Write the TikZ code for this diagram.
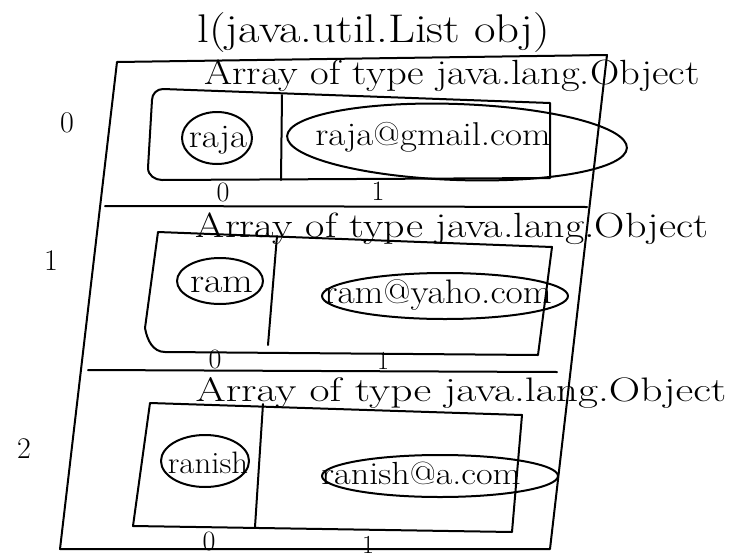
\documentclass[tikz,border=0pt]{standalone}
\usepackage{graphicx}
\usetikzlibrary{calc}
\newcommand\hsc[2]{\scalebox{#1}[1]{#2}}
\begin{document}
\tikzset{
  ink/.style={line width=2pt, line cap=round, line join=round},
  fs/.style={inner sep=0pt, anchor=base, font=\fontsize{#1}{#1}\selectfont},
}
\begin{tikzpicture}[x=1pt,y=-1pt]
\useasboundingbox (0,0) rectangle (729,560);
% outer frame
\draw[ink] (117,62) -- (607,55) -- (550,549) -- (60,549) -- cycle;
\node[fs=40] (title) at (374,42) {\hsc{1.17}{l(java.util.List obj)}};
% left row numbers
\node[fs=30] (n0) at (67,132) {0};
\node[fs=30] (n1) at (51,270) {1};
\node[fs=30] (n2) at (24,458) {2};
% ---------- row 0
\node[fs=35] (h0) at (452,84) {\hsc{1.16}{Array of type java.lang.Object}};
\draw[ink] (550,103) -- (163,89) to[out=180,in=90] (152,100) -- (148,168) to[out=-90,in=180] (162,180) -- (550,178) -- cycle;
\draw[ink] (282,95) -- (281,180);
\draw[ink] (217,138) ellipse [x radius=35, y radius=26];
\node[fs=33] (v00) at (218,147) {\hsc{1.12}{raja}};
\draw[ink, rotate around={-2:(457,142)}] (457,142) ellipse [x radius=170, y radius=38];
\node[fs=33] (v01) at (433,145) {\hsc{1.12}{raja@gmail.com}};
\node[fs=28] (i00) at (223,201) {0};
\node[fs=28] (i01) at (378,200) {1};
\draw[ink] (105,206) -- (587,207);
% ---------- row 1
\node[fs=35] (h1) at (452,237) {\hsc{1.2}{Array of type java.lang.Object}};
\draw[ink] (552,247) -- (158,232) -- (145,328) to[out=-80,in=180] (165,352) -- (538,355) -- cycle;
\draw[ink] (277,236) -- (268,345);
\draw[ink] (220,281) ellipse [x radius=43, y radius=23];
\node[fs=35] (v10) at (222,292) {\hsc{1.14}{ram}};
\draw[ink] (445,296) ellipse [x radius=123, y radius=23];
\node[fs=34] (v11) at (438,303) {\hsc{1.1}{ram@yaho.com}};
\node[fs=28] (i10) at (215,368) {0};
\node[fs=26] (i11) at (383,369) {1};
\draw[ink] (88,370) -- (557,372);
% ---------- row 2
\node[fs=34] (h2) at (461,401) {\hsc{1.28}{Array of type java.lang.Object}};
\draw[ink] (150,403) -- (522,415) -- (512,532) -- (133,526) -- cycle;
\draw[ink] (263,404) -- (255,527);
\draw[ink] (205,461) ellipse [x radius=44, y radius=26];
\node[fs=31] (v20) at (208,473) {\hsc{1.06}{ranish}};
\draw[ink] (440,476) ellipse [x radius=118, y radius=21];
\node[fs=32] (v21) at (421,484) {\hsc{1.13}{ranish@a.com}};
\node[fs=28] (i20) at (209,550) {0};
\node[fs=26] (i21) at (368,553) {1};
\end{tikzpicture}
\end{document}
